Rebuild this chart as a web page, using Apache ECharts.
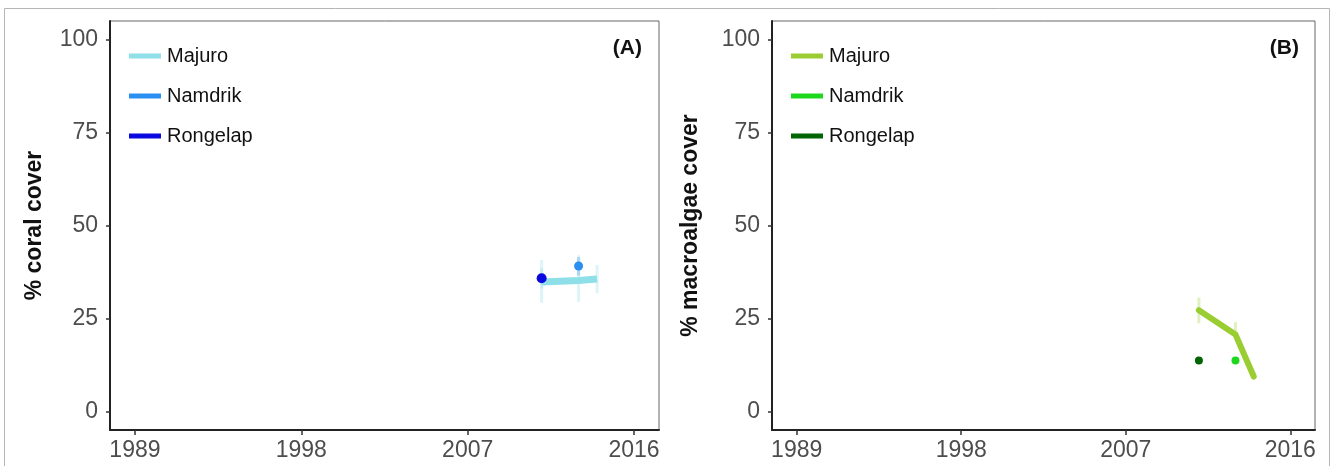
<!DOCTYPE html>
<html><head><meta charset="utf-8">
<script src="https://cdn.jsdelivr.net/npm/echarts@6/dist/echarts.min.js"></script>
<style>html,body{margin:0;padding:0;background:#fff}#c{width:1335px;height:466px}</style>
</head><body><div id="c"></div>
<script>
// ---- data ----
const xTicks = [1989, 1998, 2007, 2016];
const yTicks = [0, 25, 50, 75, 100];
const siteNames = ['Majuro', 'Namdrik', 'Rongelap'];

// Panel A: coral cover
const coralMajuroYears = [2011, 2013, 2014];
const coralMajuroVals = [34.8, 35.2, 35.6];
const coralMajuroLo = [29.2, 29.4, 31.8];
const coralMajuroHi = [40.7, 42.0, 39.4];
const coralNamdrikYears = [2013];
const coralNamdrikVals = [39.1];
const coralNamdrikLo = [36.5];
const coralNamdrikHi = [41.5];
const coralRongelapYears = [2011];
const coralRongelapVals = [35.8];
const coralRongelapLo = [33.0];
const coralRongelapHi = [38.5];

// Panel B: macroalgae cover
const algaeMajuroYears = [2011, 2013, 2014];
const algaeMajuroVals = [27.2, 20.7, 9.4];
const algaeMajuroLo = [23.7, 21.2, 8.5];
const algaeMajuroHi = [30.6, 24.0, 10.5];
const algaeNamdrikYears = [2013];
const algaeNamdrikVals = [13.7];
const algaeRongelapYears = [2011];
const algaeRongelapVals = [13.7];

const colorsA = ['#8fdfe8', '#2a8ff0', '#0a0ae0'];
const colorsB = ['#9acd32', '#1ed81e', '#006400'];

const zip = (xs, ys) => xs.map((x, i) => [x, ys[i]]);
const zip3 = (xs, lo, hi) => xs.map((x, i) => [x, lo[i], hi[i]]);

const FONT = 'Liberation Sans, Arial, sans-serif';

function errSeries(name, data, color, xi) {
  return {
    type: 'custom', name: name, xAxisIndex: xi, yAxisIndex: xi, silent: true, z: 1,
    data: data,
    renderItem: function (params, api) {
      const p1 = api.coord([api.value(0), api.value(1)]);
      const p2 = api.coord([api.value(0), api.value(2)]);
      return { type: 'line', shape: { x1: p1[0], y1: p1[1], x2: p2[0], y2: p2[1] },
        style: { stroke: color, lineWidth: 3, opacity: 0.3 } };
    }
  };
}

function xAx(gi) {
  return {
    type: 'value', gridIndex: gi, min: 1987.65, max: 2017.35,
    splitLine: { show: false },
    axisLine: { show: true, onZero: false, lineStyle: { color: '#222', width: 2 } },
    axisTick: { show: true, length: 5, customValues: xTicks, lineStyle: { color: '#333', width: 1.5 } },
    axisLabel: { customValues: xTicks, formatter: v => String(v), color: '#4d4d4d', fontSize: 23, fontFamily: FONT, margin: 9 }
  };
}
function yAx(gi, name, gap) {
  return {
    type: 'value', gridIndex: gi, min: -5, max: 105,
    name: name, nameLocation: 'middle', nameGap: gap, nameRotate: 90,
    nameTextStyle: { color: '#111', fontSize: 23, fontWeight: 'bold', fontFamily: FONT },
    splitLine: { show: false },
    axisLine: { show: true, onZero: false, lineStyle: { color: '#222', width: 2 } },
    axisTick: { show: true, length: 4, customValues: yTicks, lineStyle: { color: '#333', width: 1.5 } },
    axisLabel: { customValues: yTicks, color: '#4d4d4d', fontSize: 23, fontFamily: FONT, margin: 12 }
  };
}
function legend(left, names, colors, suffix) {
  return {
    orient: 'vertical', left: left, top: 40, itemWidth: 32, itemHeight: 5, itemGap: 18,
    icon: 'rect', selectedMode: false,
    data: names.map((n, i) => ({ name: n + suffix, itemStyle: { color: colors[i] } })),
    formatter: n => n.replace(suffix, ''),
    textStyle: { fontSize: 20, lineHeight: 22, color: '#111', fontFamily: FONT, padding: [0, 0, 0, 1] }
  };
}

const chart = echarts.init(document.getElementById('c'), null, { renderer: 'canvas' });
chart.setOption({
  animation: false,
  backgroundColor: '#fff',
  graphic: [{ type: 'rect', shape: { x: 4.5, y: 8.5, width: 1325, height: 480 }, style: { fill: 'none', stroke: '#b5b5b5', lineWidth: 1 }, silent: true }],
  title: [
    { text: '(A)', right: 1335 - 647, top: 33, textStyle: { fontSize: 21, fontWeight: 'bold', color: '#111', fontFamily: FONT } },
    { text: '(B)', right: 1335 - 1304, top: 33, textStyle: { fontSize: 21, fontWeight: 'bold', color: '#111', fontFamily: FONT } }
  ],
  grid: [
    { left: 110, top: 21, width: 549, height: 409, show: true, borderColor: '#666', borderWidth: 1, backgroundColor: '#fff' },
    { left: 772, top: 21, width: 543, height: 409, show: true, borderColor: '#666', borderWidth: 1, backgroundColor: '#fff' }
  ],
  xAxis: [xAx(0), xAx(1)],
  yAxis: [yAx(0, '% coral cover', 64), yAx(1, '% macroalgae cover', 70)],
  legend: [legend(124, siteNames, colorsA, ''), legend(786, siteNames, colorsB, '_B')],
  series: [
    errSeries('errA1', zip3(coralMajuroYears, coralMajuroLo, coralMajuroHi), colorsA[0], 0),
    errSeries('errA2', zip3(coralNamdrikYears, coralNamdrikLo, coralNamdrikHi), colorsA[1], 0),
    errSeries('errA3', zip3(coralRongelapYears, coralRongelapLo, coralRongelapHi), colorsA[0], 0),
    { name: 'Majuro', type: 'line', xAxisIndex: 0, yAxisIndex: 0, data: zip(coralMajuroYears, coralMajuroVals),
      showSymbol: false, color: colorsA[0], lineStyle: { width: 7, cap: 'butt' }, z: 2 },
    { name: 'Namdrik', type: 'line', xAxisIndex: 0, yAxisIndex: 0, data: zip(coralNamdrikYears, coralNamdrikVals),
      showSymbol: true, symbol: 'circle', symbolSize: 9, color: colorsA[1], lineStyle: { width: 5 }, z: 3 },
    { name: 'Rongelap', type: 'line', xAxisIndex: 0, yAxisIndex: 0, data: zip(coralRongelapYears, coralRongelapVals),
      showSymbol: true, symbol: 'circle', symbolSize: 10, color: colorsA[2], lineStyle: { width: 5 }, z: 3 },

    errSeries('errB1', zip3(algaeMajuroYears, algaeMajuroLo, algaeMajuroHi), colorsB[0], 1),
    { name: 'Majuro_B', type: 'line', xAxisIndex: 1, yAxisIndex: 1, data: zip(algaeMajuroYears, algaeMajuroVals),
      showSymbol: false, color: colorsB[0], lineStyle: { width: 6, cap: 'round', join: 'round' }, z: 2 },
    { name: 'Namdrik_B', type: 'line', xAxisIndex: 1, yAxisIndex: 1, data: zip(algaeNamdrikYears, algaeNamdrikVals),
      showSymbol: true, symbol: 'circle', symbolSize: 8, color: colorsB[1], lineStyle: { width: 5 }, z: 3 },
    { name: 'Rongelap_B', type: 'line', xAxisIndex: 1, yAxisIndex: 1, data: zip(algaeRongelapYears, algaeRongelapVals),
      showSymbol: true, symbol: 'circle', symbolSize: 8, color: colorsB[2], lineStyle: { width: 5 }, z: 3 }
  ]
});
</script></body></html>
